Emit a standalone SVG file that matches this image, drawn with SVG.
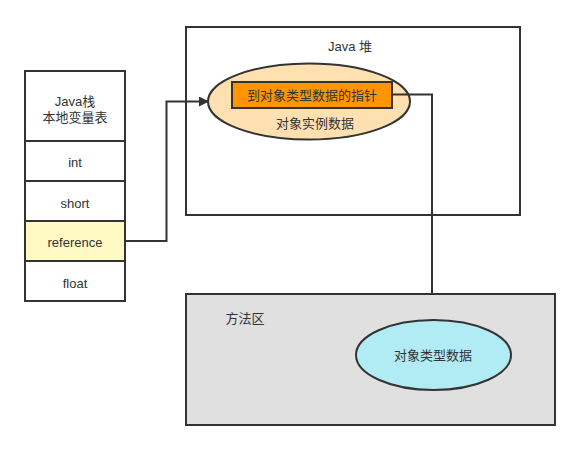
<svg xmlns="http://www.w3.org/2000/svg" width="579" height="450" viewBox="0 0 579 450">
<style>
.s{stroke:#333;stroke-width:2}
.t{font-family:"Liberation Sans","Noto Sans CJK SC",sans-serif;font-size:13px;fill:#333;text-anchor:middle;dominant-baseline:central}
.c{fill:none;stroke:#333;stroke-width:2}
</style>
<defs>
<marker id="ah" markerWidth="10" markerHeight="10" refX="9" refY="5" orient="auto" markerUnits="userSpaceOnUse">
<path d="M0,0 L10,5 L0,10 Z" fill="#333"/>
</marker>
</defs>
<rect width="579" height="450" fill="#fff"/>
<g id="heap">
<rect class="s" x="186" y="27" width="334" height="188" fill="#fff"/>
<text class="t" x="350" y="46">Java 堆</text>
</g>
<g id="method-area">
<rect class="s" x="186" y="294" width="369" height="131" fill="#e0e0e0"/>
<text class="t" x="245" y="318">方法区</text>
</g>
<g id="instance">
<ellipse class="s" cx="309" cy="101.5" rx="101" ry="38" fill="#ffe0b0"/>
<text class="t" x="315" y="123">对象实例数据</text>
</g>
<g id="pointer">
<rect class="s" x="232" y="82" width="160" height="26" fill="#ff9500"/>
<text class="t" x="312" y="95">到对象类型数据的指针</text>
</g>
<g id="type-data">
<ellipse class="s" cx="433.5" cy="355" rx="77.5" ry="35" fill="#b1ebf3"/>
<text class="t" x="433" y="355">对象类型数据</text>
</g>
<g id="stack">
<rect class="s" x="25" y="71" width="100" height="70" fill="#fff"/>
<text class="t" x="75" y="101">Java栈</text>
<text class="t" x="75" y="117">本地变量表</text>
</g>
<g id="int"><rect class="s" x="25" y="141" width="100" height="40" fill="#fff"/><text class="t" x="75" y="162">int</text></g>
<g id="short"><rect class="s" x="25" y="181" width="100" height="40" fill="#fff"/><text class="t" x="75" y="203">short</text></g>
<g id="reference"><rect class="s" x="25" y="221" width="100" height="40" fill="#fff9c4"/><text class="t" x="75" y="242">reference</text></g>
<g id="float"><rect class="s" x="25" y="261" width="100" height="40" fill="#fff"/><text class="t" x="75" y="283">float</text></g>
<g id="connectors">
<path class="c" d="M125,241 H166.5 V101.5 H208" marker-end="url(#ah)"/>
<path class="c" d="M392,94.5 H432 V294"/>
</g>
</svg>
